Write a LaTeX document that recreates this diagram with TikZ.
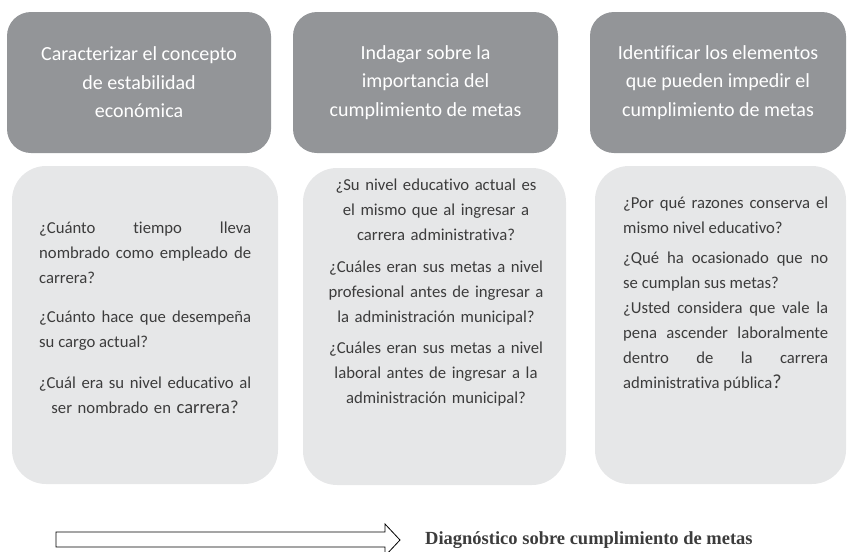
\documentclass[tikz,border=0pt]{standalone}
\usepackage{fontspec}
\setmainfont[Ligatures=CommonOff]{Carlito}
\newfontfamily\tnrfont{Liberation Serif}
\definecolor{grisoscuro}{HTML}{939598}
\definecolor{grisclaro}{HTML}{E6E7E8}
\definecolor{textogris}{HTML}{3C3C3C}
\begin{document}
\begin{tikzpicture}[x=1pt,y=-1pt] % coordenadas en px, y hacia abajo
\tikzstyle{objetivo} = [rounded corners=24pt, fill=grisoscuro, text=white, align=center, minimum width=264pt, minimum height=141pt, inner sep=0pt, font=\fontsize{20}{28.5}\selectfont] % cajas de arriba
\tikzstyle{caja} = [rounded corners=34pt, fill=grisclaro, minimum height=318pt, inner sep=0pt] % cajas de preguntas
\tikzstyle{pregunta} = [inner sep=0pt, text=textogris, font=\fontsize{16.7}{25}\selectfont] % texto de preguntas
\useasboundingbox (0,0) rectangle (847,552);
% objetivos
\node[objetivo] (obj1) at (139,82.5) {Caracterizar el concepto\\de estabilidad\\económica};
\node[objetivo, minimum width=265pt] (obj2) at (425.5,82.5) {Indagar sobre la\\importancia del\\cumplimiento de metas};
\node[objetivo, minimum width=256pt] (obj3) at (718,82.5) {Identificar los elementos\\que pueden impedir el\\cumplimiento de metas};
% cajas de preguntas
\node[caja, minimum width=266pt] (caja1) at (145,325) {};
\node[caja, minimum width=263pt, minimum height=317pt] (caja2) at (434.5,326.5) {};
\node[caja, minimum width=251pt] (caja3) at (720.5,325) {};
% preguntas de la primera caja
\node[pregunta, text width=212pt, align=justify, anchor=base west] (p11) at (39,233) {¿Cuánto tiempo lleva\linebreak nombrado como empleado de\linebreak carrera?};
\node[pregunta, text width=212pt, align=justify, anchor=base west] (p12) at (39,322) {¿Cuánto hace que desempeña\linebreak su cargo actual?};
\node[pregunta, text width=230pt, align=center, anchor=base] (p13) at (145,388) {¿Cuál era su nivel educativo al\\ser nombrado en {\fontsize{18.5}{25}\selectfont carrera?}};
% preguntas de la segunda caja
\node[pregunta, text width=240pt, align=center, anchor=base] (p21) at (436,190) {¿Su nivel educativo actual es\\el mismo que al ingresar a\\carrera administrativa?};
\node[pregunta, text width=240pt, align=center, anchor=base] (p22) at (436,272) {¿Cuáles eran sus metas a nivel\\profesional antes de ingresar a\\la administración municipal?};
\node[pregunta, text width=240pt, align=center, anchor=base] (p23) at (436,353) {¿Cuáles eran sus metas a nivel\\laboral antes de ingresar a la\\administración municipal?};
% preguntas de la tercera caja
\node[pregunta, text width=205pt, align=justify, anchor=base west] (p31) at (623,208) {¿Por qué razones conserva el\linebreak mismo nivel educativo?};
\node[pregunta, text width=205pt, align=justify, anchor=base west] (p32) at (623,263) {¿Qué ha ocasionado que no\linebreak se cumplan sus metas?};
\node[pregunta, text width=205pt, align=justify, anchor=base west] (p33) at (623,313) {¿Usted considera que vale la\linebreak pena ascender laboralmente\linebreak dentro de la carrera\linebreak administrativa pública{\fontsize{20}{25}\selectfont ?}};
% flecha y diagnostico
\node[anchor=west, inner sep=0pt, font=\tnrfont\bfseries\fontsize{18.5}{20}\selectfont, text=textogris] (diag) at (425,540) {Diagnóstico sobre cumplimiento de metas};
\draw[line width=0.8pt, fill=white, line join=miter] (56,532) -- (385,532) -- (385,524) -- (400,540) -- (385,556) -- (385,547) -- (56,547) -- cycle;
\end{tikzpicture}
\end{document}
